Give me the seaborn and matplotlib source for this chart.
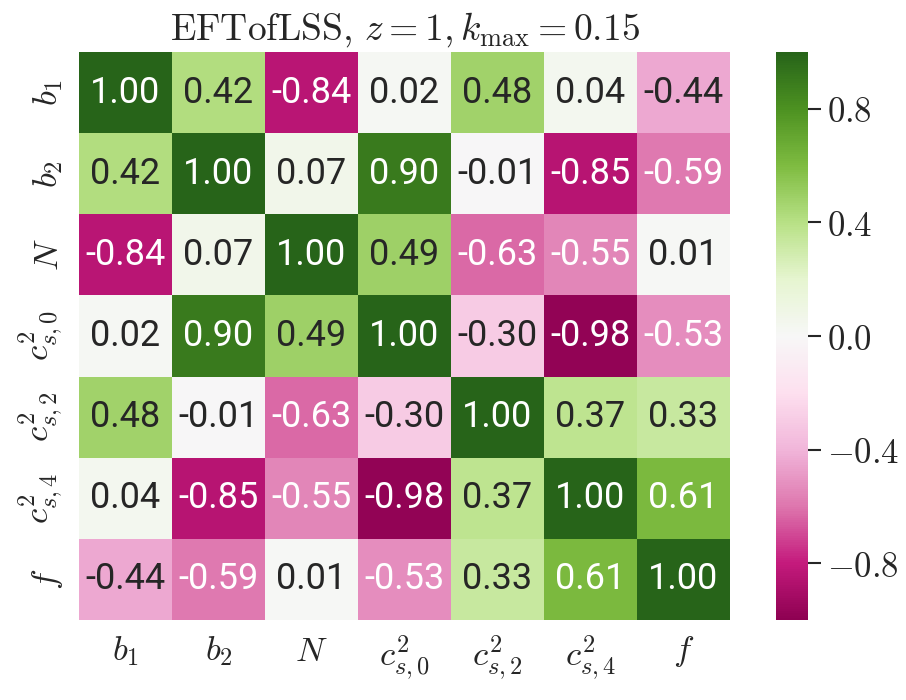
import numpy as np
import pandas as pd
import matplotlib
matplotlib.use("Agg")
import matplotlib.pyplot as plt
import seaborn as sns
from matplotlib.ticker import FixedLocator, FuncFormatter

labels = [r"$b_1$", r"$b_2$", r"$N$", r"$c^2_{s,0}$", r"$c^2_{s,2}$", r"$c^2_{s,4}$", r"$f$"]
row_b1 = [1.00, 0.42, -0.84, 0.02, 0.48, 0.04, -0.44]
row_b2 = [0.42, 1.00, 0.07, 0.90, -0.01, -0.85, -0.59]
row_N = [-0.84, 0.07, 1.00, 0.49, -0.63, -0.55, 0.01]
row_cs0 = [0.02, 0.90, 0.49, 1.00, -0.30, -0.98, -0.53]
row_cs2 = [0.48, -0.01, -0.63, -0.30, 1.00, 0.37, 0.33]
row_cs4 = [0.04, -0.85, -0.55, -0.98, 0.37, 1.00, 0.61]
row_f = [-0.44, -0.59, 0.01, -0.53, 0.33, 0.61, 1.00]
cbar_ticks = [-0.8, -0.4, 0.0, 0.4, 0.8]
title = r"$\mathrm{EFTofLSS,}\, z=1, k_{\mathrm{max}}=0.15$"

sns.set_theme(style="white")
plt.rcParams["mathtext.fontset"] = "cm"

df = pd.DataFrame([row_b1, row_b2, row_N, row_cs0, row_cs2, row_cs4, row_f],
                  index=labels, columns=labels)

fig = plt.figure(figsize=(9.06, 7.0), dpi=100)
ax = fig.add_axes([79/906, 1-620/700, (730-79)/906, (620-52)/700])
cax = fig.add_axes([776/906, 1-620/700, 32/906, (620-52)/700])

sns.heatmap(df, ax=ax, cbar_ax=cax, cmap="PiYG", vmin=-1, vmax=1,
            annot=True, fmt=".2f",
            annot_kws={"size": 26, "family": ["Roboto", "DejaVu Sans"]})

ax.set_title(title, fontsize=27, pad=9)
ax.set_xticklabels(labels, fontsize=25, rotation=0)
ax.set_yticklabels(labels, fontsize=25, rotation=90, va="center")
ax.tick_params(axis="both", length=0, pad=10)

cax.yaxis.set_major_locator(FixedLocator(cbar_ticks))
cax.yaxis.set_major_formatter(FuncFormatter(lambda v, p: r"$%.1f$" % v))
cax.tick_params(axis="y", right=True, length=9, width=1.5, labelsize=25, color="#262626", pad=5)
for s in cax.spines.values():
    s.set_visible(False)

fig.savefig("out.png", dpi=100)
